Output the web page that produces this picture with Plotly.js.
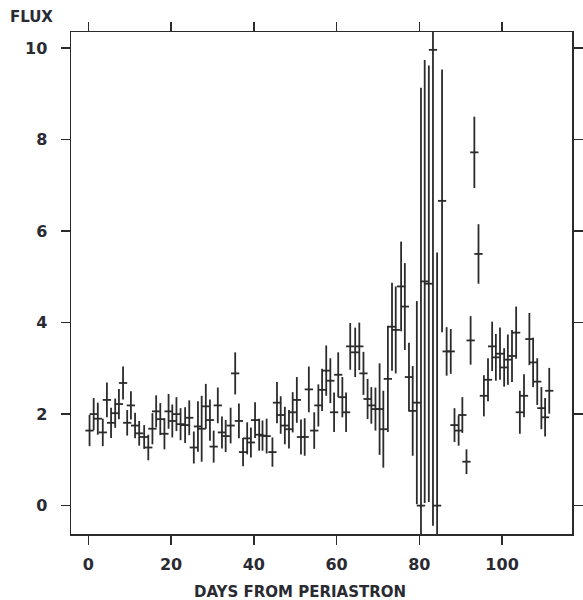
<!DOCTYPE html>
<html>
<head>
<meta charset="utf-8">
<script src="https://cdn.plot.ly/plotly-3.0.1.min.js"></script>
<style>
  html, body { margin: 0; padding: 0; background: #ffffff; }
  #chart { width: 583px; height: 600px; }
</style>
</head>
<body>
<div id="chart"></div>
<script>
// Days from periastron
const days = [
  0.3, 1.3, 2.3, 3.5, 4.5, 5.5, 6.5, 7.4, 8.4, 9.4,
  10.3, 11.3, 12.3, 13.5, 14.5, 15.5, 16.4, 17.4, 18.4, 19.4,
  20.3, 21.3, 22.3, 23.4, 24.4, 25.5, 26.5, 27.4, 28.4, 29.4,
  30.3, 31.3, 32.3, 33.2, 34.4, 35.5, 36.4, 37.4, 38.4, 39.3,
  40.3, 41.3, 42.1, 43.1, 44.5, 45.6, 46.5, 47.5, 48.5, 49.4,
  50.4, 51.4, 52.3, 53.3, 54.6, 55.6, 56.5, 57.5, 58.5, 59.4,
  60.4, 61.4, 62.3, 63.3, 64.5, 65.5, 66.5, 67.5, 68.4, 69.4,
  70.4, 71.3, 72.4, 73.4, 74.3, 75.6, 76.5, 77.5, 78.4, 79.4,
  80.4, 81.3, 82.3, 83.3, 84.3, 85.5, 86.6, 87.6, 88.5, 89.5,
  90.4, 91.4, 92.4, 93.3, 94.3, 95.6, 96.6, 97.6, 98.5, 99.5,
  100.5, 101.4, 102.4, 103.4, 104.3, 105.3, 106.6, 107.5, 108.5, 109.5,
  110.4, 111.4
];
// Flux values
const flux = [
  1.64, 2.00, 1.90, 1.60, 2.31, 1.81, 2.02, 2.22, 2.68, 1.81,
  2.19, 1.75, 1.58, 1.50, 1.27, 1.68, 2.06, 1.89, 1.57, 2.06,
  1.85, 2.00, 1.78, 1.76, 1.92, 1.27, 1.73, 1.68, 2.17, 1.87,
  1.29, 2.19, 1.60, 1.52, 1.75, 2.89, 1.85, 1.17, 1.47, 1.38,
  1.87, 1.55, 1.53, 1.52, 1.17, 2.25, 1.98, 1.75, 1.67, 2.04,
  2.31, 1.50, 1.50, 2.54, 1.64, 2.19, 2.53, 2.95, 2.73, 2.04,
  2.86, 2.37, 2.04, 3.48, 3.35, 3.48, 2.89, 2.33, 2.19, 2.11,
  2.11, 1.67, 2.77, 3.91, 3.84, 4.79, 4.35, 2.81, 2.07, 2.25,
  0.00, 4.90, 4.85, 9.96, 0.00, 6.66, 3.37, 3.37, 1.76, 1.64,
  1.98, 0.96, 3.61, 7.72, 5.50, 2.40, 2.75, 3.48, 3.24, 3.32,
  3.02, 3.19, 3.27, 3.78, 2.04, 2.40, 3.64, 3.13, 2.71, 2.13,
  1.93, 2.51
];
// Flux uncertainties (1 sigma)
const fluxErr = [
  0.34, 0.35, 0.35, 0.30, 0.38, 0.33, 0.32, 0.33, 0.36, 0.28,
  0.31, 0.28, 0.27, 0.26, 0.28, 0.34, 0.35, 0.35, 0.34, 0.38,
  0.36, 0.37, 0.35, 0.39, 0.38, 0.35, 0.55, 0.72, 0.49, 0.45,
  0.35, 0.39, 0.35, 0.35, 0.39, 0.46, 0.38, 0.31, 0.35, 0.33,
  0.39, 0.35, 0.33, 0.38, 0.32, 0.45, 0.41, 0.41, 0.42, 0.44,
  0.50, 0.38, 0.41, 0.50, 0.40, 0.46, 0.46, 0.55, 0.49, 0.43,
  0.49, 0.44, 0.43, 0.51, 0.54, 0.52, 0.47, 0.44, 0.40, 0.47,
  1.00, 0.84, 1.16, 0.96, 0.95, 0.98, 0.95, 0.75, 0.98, 2.22,
  9.13, 4.84, 4.77, 10.40, 5.53, 2.87, 0.53, 0.49, 0.37, 0.33,
  0.39, 0.27, 0.53, 0.78, 0.65, 0.45, 0.47, 0.54, 0.51, 0.57,
  0.42, 0.55, 0.57, 0.57, 0.47, 0.47, 0.57, 0.54, 0.51, 0.46,
  0.42, 0.50
];
// Half-width of each time bin (days)
const dayHalfBin = 1.0;

const xTicks = [0, 20, 40, 60, 80, 100];
const yTicks = [0, 2, 4, 6, 8, 10];

const ink = '#2b2b2b';
const tickFont = { family: 'DejaVu Sans, Verdana, sans-serif', size: 16, color: '#2a2a33', weight: 'bold' };
const titleFont = { family: 'DejaVu Sans, Verdana, sans-serif', size: 15, color: '#2a2a33', weight: 'bold' };

const trace = {
  type: 'scatter',
  mode: 'markers',
  x: days,
  y: flux,
  marker: { size: 1, color: ink },
  error_y: { type: 'data', array: fluxErr, visible: true, color: ink, thickness: 1.8, width: 0 },
  error_x: { type: 'constant', value: dayHalfBin, visible: true, color: ink, thickness: 1.8, width: 0 },
  cliponaxis: true,
  hoverinfo: 'x+y'
};

const layout = {
  width: 583,
  height: 600,
  margin: { l: 71, r: 11, t: 32, b: 66, pad: 0 },
  paper_bgcolor: '#ffffff',
  plot_bgcolor: '#ffffff',
  showlegend: false,
  title: {
    text: 'FLUX',
    font: titleFont,
    xref: 'container', yref: 'container',
    x: 0.017, xanchor: 'left',
    y: 0.972, yanchor: 'middle'
  },
  xaxis: {
    range: [-4.18, 116.9],
    tickvals: xTicks,
    ticktext: xTicks.map(String),
    ticks: 'outside',
    ticklen: 9,
    tickwidth: 1.5,
    tickcolor: ink,
    showline: true,
    linecolor: ink,
    linewidth: 1.5,
    mirror: 'ticks',
    showgrid: false,
    zeroline: false,
    tickfont: tickFont,
    ticklabelstandoff: 6
  },
  yaxis: {
    range: [-0.62, 10.35],
    tickvals: yTicks,
    ticktext: yTicks.map(String),
    ticks: 'outside',
    ticklen: 9,
    tickwidth: 1.5,
    tickcolor: ink,
    showline: true,
    linecolor: ink,
    linewidth: 1.5,
    mirror: 'ticks',
    showgrid: false,
    zeroline: false,
    tickfont: tickFont,
    ticklabelstandoff: 10
  },
  annotations: [{
    text: 'DAYS FROM PERIASTRON',
    xref: 'paper', yref: 'paper',
    x: 0.457, y: -0.1155,
    xanchor: 'center', yanchor: 'middle',
    showarrow: false,
    font: titleFont
  }]
};

Plotly.newPlot('chart', [trace], layout, { staticPlot: true, displayModeBar: false });
</script>
</body>
</html>
